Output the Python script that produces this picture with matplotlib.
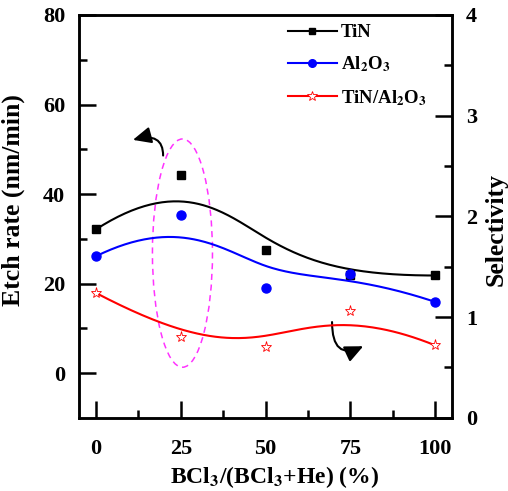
import numpy as np
import matplotlib
matplotlib.use('Agg')
import matplotlib.pyplot as plt
from matplotlib.patches import Ellipse, FancyArrowPatch

plt.rcParams['font.family'] = ['Liberation Serif', 'DejaVu Serif']
plt.rcParams['font.weight'] = 'bold'
plt.rcParams['mathtext.fontset'] = 'stix'
plt.rcParams['mathtext.default'] = 'bf'

# ---------------- data ----------------
bcl3 = [0, 25, 50, 75, 100]
tin = [32.1, 44.3, 27.5, 21.8, 21.8]          # etch rate nm/min
al2o3 = [26.1, 35.4, 19.1, 22.2, 15.9]        # etch rate nm/min
select = [1.24, 0.80, 0.70, 1.06, 0.72]       # TiN/Al2O3 selectivity

xticks = [0, 25, 50, 75, 100]
yticks_left = [0, 20, 40, 60, 80]
yticks_right = [0, 1, 2, 3, 4]


def bspline(xs, ys, n=200):
    # clamped cubic B-spline with the points as control points (Origin style)
    p = np.column_stack([xs, ys]).astype(float)
    k = 3
    m = len(p)
    knots = np.concatenate([np.zeros(k), np.linspace(0, 1, m - k + 1), np.ones(k)])
    t = np.linspace(0, 1, n)
    t[-1] = 1 - 1e-12
    N = np.zeros((n, len(knots) - 1))
    for i in range(len(knots) - 1):
        N[:, i] = (t >= knots[i]) & (t < knots[i + 1])
    for d in range(1, k + 1):
        Nn = np.zeros((n, len(knots) - 1 - d))
        for i in range(len(knots) - 1 - d):
            a = 0
            b = 0
            if knots[i + d] != knots[i]:
                a = (t - knots[i]) / (knots[i + d] - knots[i]) * N[:, i]
            if knots[i + d + 1] != knots[i + 1]:
                b = (knots[i + d + 1] - t) / (knots[i + d + 1] - knots[i + 1]) * N[:, i + 1]
            Nn[:, i] = a + b
        N = Nn
    c = N @ p
    return c[:, 0], c[:, 1]


fig = plt.figure(figsize=(5.08, 4.91), dpi=100)
ax = fig.add_axes([0.1555, 0.149, 0.7345, 0.8205])
ax2 = ax.twinx()

lw = 1.5
bx, by = bspline(bcl3, tin)
ax.plot(bx, by, color='black', lw=lw)
ax.plot(bcl3, tin, 's', color='black', ms=6)
bx, by = bspline(bcl3, al2o3)
ax.plot(bx, by, color='blue', lw=lw)
ax.plot(bcl3, al2o3, 'o', color='blue', ms=6.5)
bx, by = bspline(bcl3, select)
ax2.plot(bx, by, color='red', lw=lw)
ax2.plot(bcl3, select, '*', color='red', mfc='white', ms=8, mew=0.6)

# legend handles
h1, = ax2.plot([], [], '-s', color='black', lw=lw, ms=5, label='TiN')
h2, = ax2.plot([], [], '-o', color='blue', lw=lw, ms=5.5, label=r'Al$_2$O$_3$')
h3, = ax2.plot([], [], '-*', color='red', mfc='white', lw=lw, ms=7, mew=0.6,
               label=r'TiN/Al$_2$O$_3$')
ax2.legend(handles=[h1, h2, h3], loc='upper left', bbox_to_anchor=(0.525, 1.01),
           frameon=False, fontsize=13.5, handlelength=2.6, handletextpad=0.2,
           labelspacing=0.72, borderaxespad=0.3)

# annotations
ax.add_patch(Ellipse((25.5, 26.8), 17.7, 51, fill=False, ls=(0, (4, 3)),
                     color='#ff33ff', lw=1.1))
ax.add_patch(FancyArrowPatch((19.8, 48.6), (10.9, 52.1),
                             connectionstyle='angle3,angleA=90,angleB=15',
                             arrowstyle='-|>,head_length=11,head_width=5',
                             color='black', lw=1.5, shrinkA=0, shrinkB=0))
ax.add_patch(FancyArrowPatch((69.6, 11.4), (78.8, 6.0),
                             connectionstyle='angle3,angleA=90,angleB=25',
                             arrowstyle='-|>,head_length=11,head_width=5',
                             color='black', lw=1.5, shrinkA=0, shrinkB=0))

ax.set_xlim(-5, 105)
ax.set_ylim(-10, 80)
ax2.set_ylim(0, 4)
ax.set_xticks(xticks)
ax.set_xticks([12.5, 37.5, 62.5, 87.5], minor=True)
ax.set_yticks(yticks_left)
ax.set_yticks([10, 30, 50, 70], minor=True)
ax2.set_yticks(yticks_right)
ax2.set_yticks([0.5, 1.5, 2.5, 3.5], minor=True)

ax.tick_params(axis='both', which='major', direction='in', length=12, width=1.8,
               labelsize=16, top=False, right=False)
ax.tick_params(axis='x', which='major', pad=15)
ax.tick_params(axis='y', which='major', pad=10)
ax.tick_params(axis='both', which='minor', direction='in', length=6, width=1.8,
               top=False, right=False)
ax2.tick_params(axis='y', which='major', direction='in', length=12, width=1.8,
                labelsize=16, pad=10)
ax2.tick_params(axis='y', which='minor', direction='in', length=6, width=1.8)
for a in (ax, ax2):
    for s in a.spines.values():
        s.set_linewidth(1.8)

ax.set_ylabel('Etch rate (nm/min)', fontsize=18.5, fontweight='bold')
ax.yaxis.set_label_coords(-0.145, 0.54)
ax2.set_ylabel('Selectivity', fontsize=18.5, fontweight='bold')
ax2.yaxis.set_label_coords(1.086, 0.467)
ax.set_xlabel(r'BCl$_3$/(BCl$_3$+He) (%)', fontsize=17, fontweight='bold')
ax.xaxis.set_label_coords(0.525, -0.115)

fig.savefig('out.png', dpi=100)
